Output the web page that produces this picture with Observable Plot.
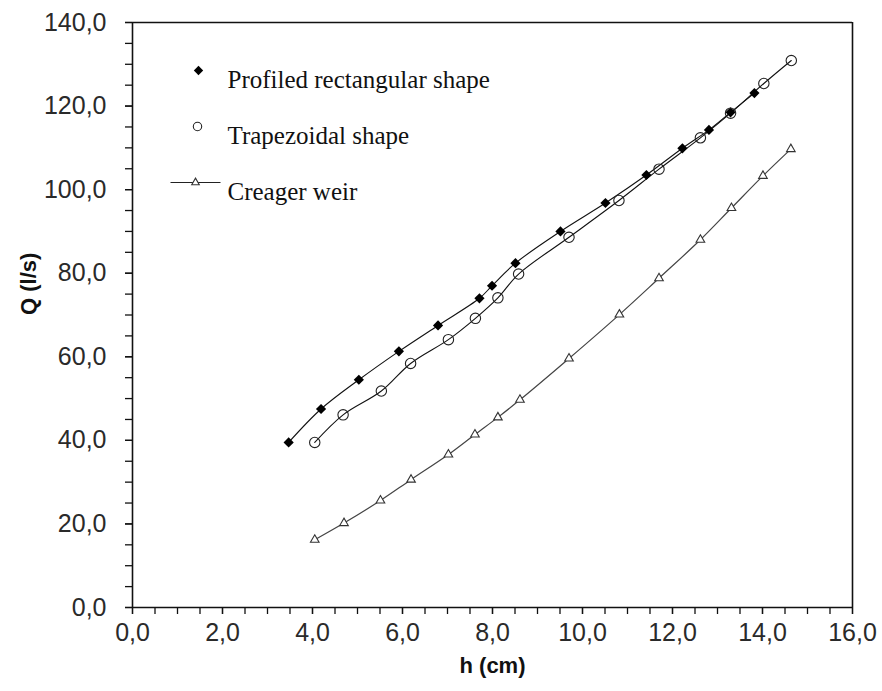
<!DOCTYPE html>
<html>
<head>
<meta charset="utf-8">
<script src="https://cdn.jsdelivr.net/npm/d3@7"></script>
<script src="https://cdn.jsdelivr.net/npm/@observablehq/plot@0.6"></script>
<style>
  html, body { margin: 0; padding: 0; background: #fff; }
  #chart svg { display: block; }
</style>
</head>
<body>
<div id="chart"></div>
<script>
// Profiled rectangular shape (filled diamonds)
const rectH = [3.47, 4.19, 5.03, 5.92, 6.79, 7.71, 7.99, 8.51, 9.51, 10.51, 11.42, 12.22, 12.81, 13.29, 13.82];
const rectQ = [39.5, 47.5, 54.5, 61.3, 67.5, 74.0, 77.0, 82.4, 90.0, 96.8, 103.5, 109.9, 114.3, 118.5, 123.1];
// Trapezoidal shape (open circles)
const trapH = [4.05, 4.68, 5.53, 6.18, 7.02, 7.62, 8.12, 8.58, 9.70, 10.81, 11.70, 12.62, 13.29, 14.03, 14.64];
const trapQ = [39.5, 46.1, 51.8, 58.4, 64.1, 69.2, 74.1, 79.8, 88.6, 97.4, 104.9, 112.4, 118.3, 125.4, 130.9];
// Creager weir (open triangles)
const creagerH = [4.05, 4.70, 5.51, 6.19, 7.02, 7.61, 8.12, 8.61, 9.70, 10.82, 11.70, 12.62, 13.31, 14.01, 14.63];
const creagerQ = [16.2, 20.2, 25.6, 30.6, 36.6, 41.4, 45.5, 49.7, 59.6, 70.1, 78.8, 88.0, 95.6, 103.3, 109.7];

const seriesNames = ["Profiled rectangular shape", "Trapezoidal shape", "Creager weir"];
const xDomain = [0, 16];
const yDomain = [0, 140];
const xMajorTicks = d3.range(0, 16.001, 2);
const xMinorTicks = d3.range(0, 16.001, 0.5);
const yMajorTicks = d3.range(0, 140.001, 20);
const yMinorTicks = d3.range(0, 140.001, 5);
const xLabel = "h (cm)";
const yLabel = "Q (l/s)";

const toRows = (hs, qs) => hs.map((h, i) => ({h, q: qs[i]}));
const rect = toRows(rectH, rectQ);
const trap = toRows(trapH, trapQ);
const creager = toRows(creagerH, creagerQ);

const fmt = d => d.toFixed(1).replace(".", ",");
const sans = "'Liberation Sans', Arial, sans-serif";
const serif = "'Liberation Serif', 'Times New Roman', serif";

const lineSymbol = {
  draw(context) {
    context.moveTo(-25, 0);
    context.lineTo(25, 0);
  }
};

const legendText = (name, dy) => Plot.text([name], {
  text: d => d, frameAnchor: "top-left", dx: 95, dy,
  textAnchor: "start", fontFamily: serif, fontSize: 25, fill: "#111"
});

const chart = Plot.plot({
  width: 882,
  height: 691,
  marginLeft: 132,
  marginRight: 30,
  marginTop: 22,
  marginBottom: 84,
  style: {fontFamily: sans, background: "#fff", color: "#222"},
  x: {domain: xDomain},
  y: {domain: yDomain},
  marks: [
    // minor ticks
    Plot.axisX({ticks: xMinorTicks, tickFormat: () => "", tickSize: 7, stroke: "#111", strokeWidth: 1.3, label: null}),
    Plot.axisY({ticks: yMinorTicks, tickFormat: () => "", tickSize: 7, stroke: "#111", strokeWidth: 1.3, label: null}),
    // major ticks with labels
    Plot.axisX({ticks: xMajorTicks, tickFormat: fmt, tickSize: 7, tickPadding: 9, fontSize: 25, stroke: "#111", strokeWidth: 1.3, fill: "#2a2a2a", label: null}),
    Plot.axisY({ticks: yMajorTicks, tickFormat: fmt, tickSize: 7, tickPadding: 19, fontSize: 25, stroke: "#111", strokeWidth: 1.3, fill: "#2a2a2a", label: null}),
    // plot-area border
    Plot.ruleX(xDomain, {stroke: "#111", strokeWidth: 1.6}),
    Plot.ruleY(yDomain, {stroke: "#111", strokeWidth: 1.6}),
    // axis titles
    Plot.text([xLabel], {text: d => d, frameAnchor: "bottom", dy: 65, fontSize: 22, fontWeight: "bold", fill: "#111"}),
    Plot.text([yLabel], {text: d => d, frameAnchor: "left", dx: -104, rotate: -90, fontSize: 22, fontWeight: "bold", fill: "#111"}),
    // series lines
    Plot.line(creager, {x: "h", y: "q", curve: "catmull-rom", stroke: "#444", strokeWidth: 1.2}),
    Plot.line(rect, {x: "h", y: "q", curve: "catmull-rom", stroke: "#111", strokeWidth: 1.1}),
    Plot.line(trap, {x: "h", y: "q", curve: "catmull-rom", stroke: "#111", strokeWidth: 1.1}),
    // markers
    Plot.dot(creager, {x: "h", y: "q", symbol: "triangle", r: 3.2, stroke: "#333", strokeWidth: 1.1, fill: "white"}),
    Plot.dot(rect, {x: "h", y: "q", symbol: "diamond2", r: 4.6, fill: "#000", stroke: "none"}),
    Plot.dot(trap, {x: "h", y: "q", symbol: "circle", r: 5.2, stroke: "#222", strokeWidth: 1.1, fill: "none"}),
    // legend
    Plot.dot([seriesNames[0]], {frameAnchor: "top-left", dx: 66, dy: 48, symbol: "diamond2", r: 4.2, fill: "#000", stroke: "none"}),
    Plot.dot([seriesNames[1]], {frameAnchor: "top-left", dx: 65, dy: 104, symbol: "circle", r: 4.2, stroke: "#222", strokeWidth: 1.1, fill: "none"}),
    Plot.dot([seriesNames[2]], {frameAnchor: "top-left", dx: 63, dy: 160, symbol: lineSymbol, r: 4, stroke: "#222", strokeWidth: 1.2, fill: "none"}),
    Plot.dot([seriesNames[2]], {frameAnchor: "top-left", dx: 63, dy: 160, symbol: "triangle", r: 2.8, stroke: "#333", strokeWidth: 1.1, fill: "white"}),
    legendText(seriesNames[0], 48),
    legendText(seriesNames[1], 104),
    legendText(seriesNames[2], 160)
  ]
});
document.getElementById("chart").appendChild(chart);
</script>
</body>
</html>
